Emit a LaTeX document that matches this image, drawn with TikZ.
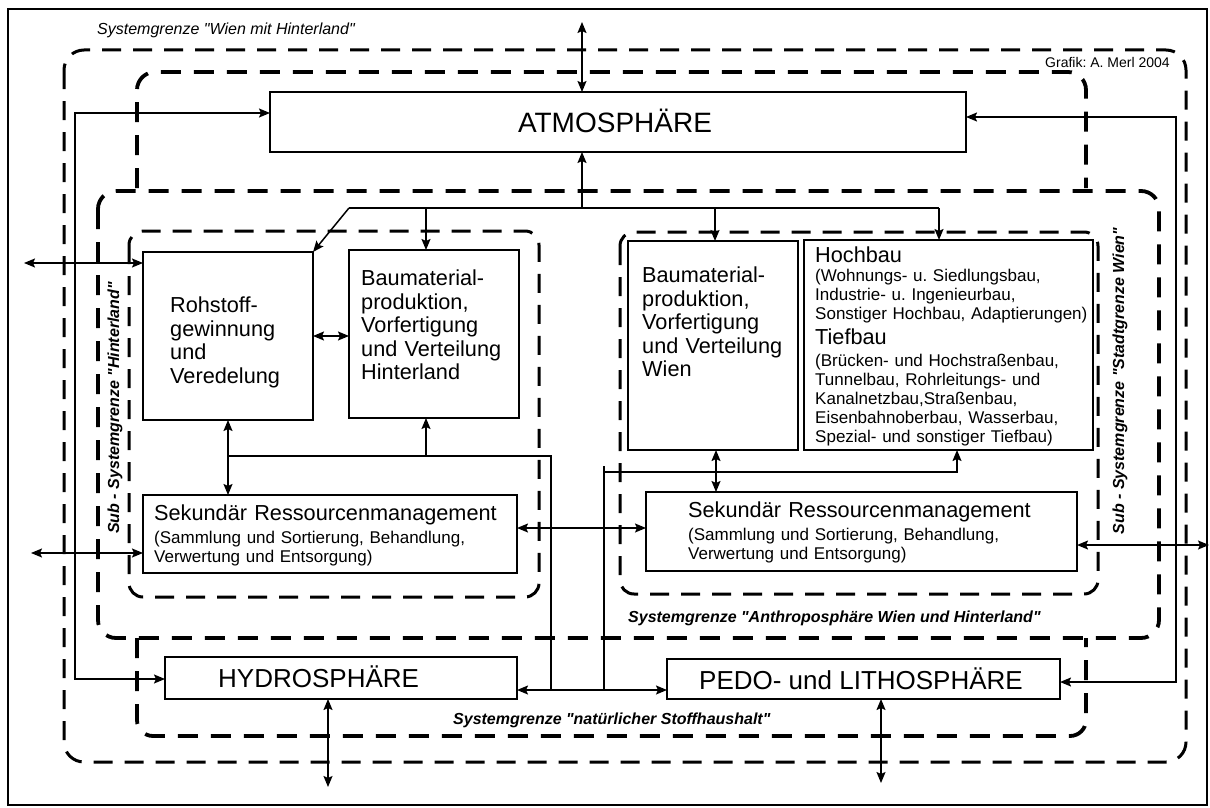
\documentclass[tikz,border=0pt]{standalone}
\usepackage{fontspec}
\setmainfont{Liberation Sans}[Ligatures=TeXOff]
\usetikzlibrary{arrows.meta}
\frenchspacing

\tikzset{
  box/.style={draw, fill=white, line width=1.8pt, inner sep=0pt, outer sep=0pt},
  flow/.style={line width=1.5pt},
  arr/.style={flow, -{Stealth[length=11pt,width=9pt,inset=2pt]}},
  arrs/.style={flow, {Stealth[length=11pt,width=9pt,inset=2pt]}-{Stealth[length=11pt,width=9pt,inset=2pt]}},
  bndthin/.style={line width=3pt, dash pattern=on 19pt off 12pt},
  bndthick/.style={line width=3.8pt, dash pattern=on 20pt off 13pt},
  bigtxt/.style={inner sep=0pt, anchor=base west, font=\fontsize{26}{30}\selectfont},
  midtxt/.style={inner sep=0pt, anchor=base west, align=left, text width=#1, font=\fontsize{21.7}{23.5}\selectfont},
  smalltxt/.style={inner sep=0pt, anchor=base west, align=left, text width=#1, font=\fontsize{17}{19}\selectfont},
  lbl/.style={inner sep=0pt, font=\fontsize{16}{18}\selectfont\bfseries\itshape},
}

\begin{document}
\begin{tikzpicture}[x=1pt,y=-1pt]
\useasboundingbox (0,0) rectangle (1210,808);

% outer frame
\draw[line width=1.4pt] (8,9) rectangle (1207,805);

% system boundaries
\draw[bndthin, rounded corners=20] (64,50) rectangle (1186,762);
\draw[bndthick, rounded corners=18] (137,188) -- (137,72) -- (1086,72) -- (1086,188);
\draw[bndthick, rounded corners=16] (137,638) -- (137,736) -- (1086,736) -- (1086,638);
\draw[bndthick, rounded corners=18] (98,191) rectangle (1159,638);
\draw[bndthin, rounded corners=14] (129,231) rectangle (539,597);
\draw[bndthin, rounded corners=14] (620,232) rectangle (1098,594);

% compartments
\node[box, minimum width=696pt, minimum height=60pt] (atm) at (618,122) {};
\node[box, minimum width=170pt, minimum height=168pt] (roh) at (228,336) {};
\node[box, minimum width=170pt, minimum height=168pt] (bmh) at (434,334) {};
\node[box, minimum width=170pt, minimum height=209pt] (bmw) at (713,345.5) {};
\node[box, minimum width=289pt, minimum height=210pt] (hoch) at (948.5,345) {};
\node[box, minimum width=374pt, minimum height=78pt] (sekh) at (330,534) {};
\node[box, minimum width=431pt, minimum height=79pt] (sekw) at (861.5,531.5) {};
\node[box, minimum width=352pt, minimum height=42pt] (hyd) at (341,678) {};
\node[box, minimum width=393pt, minimum height=40pt] (pedo) at (863.5,679) {};

% exchange with the atmosphere
\coordinate (topA) at (582,22);
\draw[arrs] (topA) -- (topA |- atm.north);
\coordinate (hub) at (582,208);
\draw[arr] (hub) -- (hub |- atm.south);
\coordinate (jl) at (349,208);
\coordinate (jr) at (939,208);
\draw[flow] (jl) -- (jr);
\draw[arr] (jl) -- (roh.north east);
\coordinate (dh) at (426,208);
\draw[arr] (dh) -- (dh |- bmh.north);
\coordinate (dw) at (715,208);
\draw[arr] (dw) -- (dw |- bmw.north);
\draw[arr] (jr) -- (jr |- hoch.north);

% side loops
\coordinate (lt) at (75,113);
\coordinate (lb) at (75,679);
\draw[arrs] (lt -| atm.west) -- (lt) -- (lb) -- (lb -| hyd.west);
\coordinate (rt) at (1176,117);
\coordinate (rb) at (1176,682);
\draw[arrs] (rt -| atm.east) -- (rt) -- (rb) -- (rb -| pedo.east);

% Hinterland flows
\draw[arrs] (roh.east) -- (roh.east -| bmh.west);
\coordinate (ex1) at (24,263);
\draw[arrs] (ex1) -- (ex1 -| roh.west);
\coordinate (ex2) at (31,553);
\draw[arrs] (ex2) -- (ex2 -| sekh.west);
\draw[arrs] (roh.south) -- (roh.south |- sekh.north);
\coordinate (m1) at (228,456);
\coordinate (m2) at (551,456);
\coordinate (m3) at (551,690);
\draw[flow] (m1) -- (m2) -- (m3);
\coordinate (m4) at (426,456);
\draw[arr] (m4) -- (m4 |- bmh.south);

% links to hydrosphere and pedosphere
\coordinate (bl) at (0,690);
\draw[arrs] (hyd.east |- bl) -- (pedo.west |- bl);
\coordinate (w1) at (604,690);
\coordinate (w2) at (604,466);
\draw[flow] (w1) -- (w2);
\coordinate (w3) at (604,472);
\coordinate (w4) at (957,472);
\draw[arr] (w3) -- (w4) -- (w4 |- hoch.south);

% Wien flows
\coordinate (v1) at (716,450);
\draw[arrs] (v1 |- bmw.south) -- (v1 |- sekw.north);
\coordinate (hh) at (0,528);
\draw[arrs] (sekh.east |- hh) -- (sekw.west |- hh);
\coordinate (ex3) at (1209,545);
\draw[arrs] (ex3 -| sekw.east) -- (ex3);
\coordinate (hb) at (328,787);
\draw[arrs] (hb |- hyd.south) -- (hb);
\coordinate (pb) at (881,783);
\draw[arrs] (pb |- pedo.south) -- (pb);

% compartment texts
\node[inner sep=0pt, anchor=base, font=\fontsize{28}{32}\selectfont] (atmt) at (615,132) {ATMOSPHÄRE};
\node[bigtxt] (hydt) at (218,687) {HYDROSPHÄRE};
\node[bigtxt, anchor=base] (pedot) at (861,689) {PEDO- und LITHOSPHÄRE};
\node[midtxt=140pt] (roht) at (170,312.5) {Rohstoff-\\gewinnung\\und\\Veredelung};
\node[midtxt=155pt] (bmht) at (361,285.5) {Baumaterial-\\produktion,\\Vorfertigung\\und Verteilung\\Hinterland};
\node[midtxt=155pt] (bmwt) at (642,282.5) {Baumaterial-\\produktion,\\Vorfertigung\\und Verteilung\\Wien};
\node[midtxt=120pt] (hocht) at (815,262.5) {Hochbau};
\node[smalltxt=285pt] (hochd) at (815,281) {(Wohnungs- u. Siedlungsbau,\\Industrie- u. Ingenieurbau,\\Sonstiger Hochbau, Adaptierungen)};
\node[midtxt=120pt] (tieft) at (815,344.5) {Tiefbau};
\node[smalltxt=285pt] (tiefd) at (815,366) {(Brücken- und Hochstraßenbau,\\Tunnelbau, Rohrleitungs- und\\Kanalnetzbau,Straßenbau,\\Eisenbahnoberbau, Wasserbau,\\Spezial- und sonstiger Tiefbau)};
\node[midtxt=360pt] (sekht) at (154,520) {Sekundär Ressourcenmanagement};
\node[smalltxt=360pt] (sekhd) at (154,543) {(Sammlung und Sortierung, Behandlung,\\Verwertung und Entsorgung)};
\node[midtxt=380pt] (sekwt) at (688,517) {Sekundär Ressourcenmanagement};
\node[smalltxt=380pt] (sekwd) at (688,540) {(Sammlung und Sortierung, Behandlung,\\Verwertung und Entsorgung)};

% boundary labels
\node[inner sep=0pt, anchor=west, font=\fontsize{16}{18}\selectfont\itshape] (lwien) at (97,30) {Systemgrenze "Wien mit Hinterland"};
\node[inner sep=0pt, anchor=west, font=\fontsize{14}{16}\selectfont] (graf) at (1045,62) {Grafik: A. Merl 2004};
\node[lbl, anchor=west] (lanth) at (628,618) {Systemgrenze "Anthroposphäre Wien und Hinterland"};
\node[lbl, anchor=west] (lnat) at (453,720) {Systemgrenze "natürlicher Stoffhaushalt"};
\node[lbl, rotate=90] (lsubh) at (115,408) {Sub - Systemgrenze "Hinterland"};
\node[lbl, rotate=90] (lsubw) at (1120,381) {Sub - Systemgrenze "Stadtgrenze Wien"};
\end{tikzpicture}
\end{document}
